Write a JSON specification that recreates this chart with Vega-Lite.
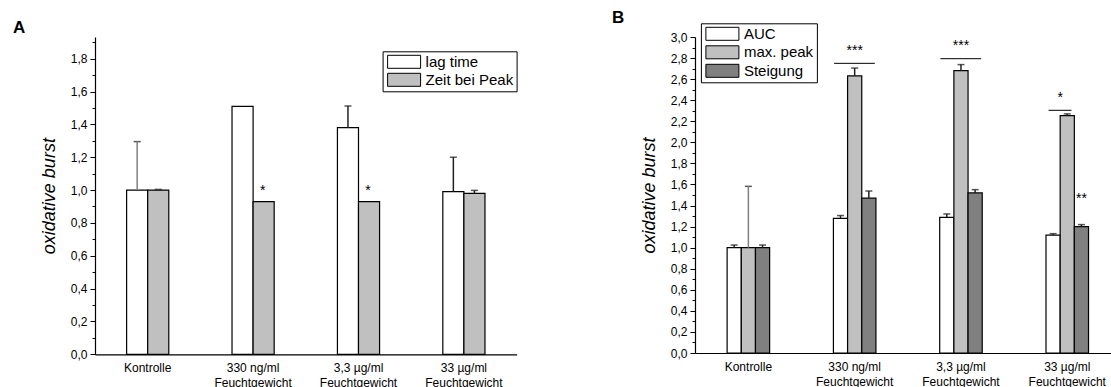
{
  "$schema": "https://vega.github.io/schema/vega-lite/v6.json",
  "background": "white",
  "padding": {"left": 13, "top": 9, "right": 0, "bottom": 0},
  "config": {
    "view": {"stroke": null},
    "font": "Liberation Sans",
    "axis": {"labelFont": "Liberation Sans", "titleFont": "Liberation Sans", "labelColor": "black", "titleColor": "black", "domainColor": "black", "tickColor": "black", "grid": false, "domainWidth": 1.2},
    "axisX": {"labelAngle": 0, "ticks": false, "labelPadding": 8, "labelFontSize": 12, "labelLineHeight": 15,
      "labelExpr": "indexof(datum.label,' Feucht')>0 ? [slice(datum.label,0,indexof(datum.label,' Feucht')), 'Feuchtgewicht'] : datum.label"},
    "axisY": {"labelOverlap": false, "labelFlush": false, "labelFontSize": 12, "labelPadding": 3,
      "titleFontStyle": "italic", "titleFontWeight": "normal", "titleFontSize": 18, "titlePadding": 12,
      "labelExpr": "round(datum.value*10)%2==0 ? replace(format(datum.value,'.1f'),'.',',') : ''",
      "tickSize": {"condition": {"test": "round(datum.value*10)%2==0", "value": 5}, "value": 3}}
  },
  "resolve": {"scale": {"fill": "independent", "xOffset": "independent", "x": "independent", "y": "independent"}, "legend": {"fill": "independent"}},
  "datasets": {
    "a": [
      {"group": "Kontrolle", "series": "lag time", "value": 1.0, "upper": 1.295},
      {"group": "Kontrolle", "series": "Zeit bei Peak", "value": 1.0, "upper": 1.004},
      {"group": "330 ng/ml Feuchtgewicht", "series": "lag time", "value": 1.51},
      {"group": "330 ng/ml Feuchtgewicht", "series": "Zeit bei Peak", "value": 0.93},
      {"group": "3,3 µg/ml Feuchtgewicht", "series": "lag time", "value": 1.38, "upper": 1.512},
      {"group": "3,3 µg/ml Feuchtgewicht", "series": "Zeit bei Peak", "value": 0.93},
      {"group": "33 µg/ml Feuchtgewicht", "series": "lag time", "value": 0.99, "upper": 1.2},
      {"group": "33 µg/ml Feuchtgewicht", "series": "Zeit bei Peak", "value": 0.98, "upper": 0.998}
    ],
    "annA": [
      {"group": "330 ng/ml Feuchtgewicht", "series": "Zeit bei Peak", "y": 0.997, "label": "*"},
      {"group": "3,3 µg/ml Feuchtgewicht", "series": "Zeit bei Peak", "y": 0.997, "label": "*"}
    ],
    "b": [
      {"group": "Kontrolle", "series": "AUC", "value": 1.0, "upper": 1.025},
      {"group": "Kontrolle", "series": "max. peak", "value": 1.0, "upper": 1.582},
      {"group": "Kontrolle", "series": "Steigung", "value": 1.0, "upper": 1.025},
      {"group": "330 ng/ml Feuchtgewicht", "series": "AUC", "value": 1.279, "upper": 1.305},
      {"group": "330 ng/ml Feuchtgewicht", "series": "max. peak", "value": 2.63, "upper": 2.705},
      {"group": "330 ng/ml Feuchtgewicht", "series": "Steigung", "value": 1.47, "upper": 1.538},
      {"group": "3,3 µg/ml Feuchtgewicht", "series": "AUC", "value": 1.288, "upper": 1.32},
      {"group": "3,3 µg/ml Feuchtgewicht", "series": "max. peak", "value": 2.68, "upper": 2.738},
      {"group": "3,3 µg/ml Feuchtgewicht", "series": "Steigung", "value": 1.52, "upper": 1.551},
      {"group": "33 µg/ml Feuchtgewicht", "series": "AUC", "value": 1.12, "upper": 1.133},
      {"group": "33 µg/ml Feuchtgewicht", "series": "max. peak", "value": 2.253, "upper": 2.27},
      {"group": "33 µg/ml Feuchtgewicht", "series": "Steigung", "value": 1.2, "upper": 1.219}
    ],
    "linesFull": [
      {"group": "330 ng/ml Feuchtgewicht", "y": 2.75, "label": "***", "ty": 2.87},
      {"group": "3,3 µg/ml Feuchtgewicht", "y": 2.794, "label": "***", "ty": 2.914}
    ],
    "linesPart": [
      {"group": "33 µg/ml Feuchtgewicht", "y": 2.304, "label": "*", "ty": 2.424}
    ],
    "annB": [
      {"group": "33 µg/ml Feuchtgewicht", "series": "Steigung", "y": 1.46, "label": "**"}
    ]
  },
  "hconcat": [
    {
      "width": 421.6,
      "height": 317.3,
      "title": {"text": "A", "anchor": "start", "frame": "group", "fontSize": 17, "fontWeight": "bold", "font": "Liberation Sans", "dx": -82, "offset": 0},
      "resolve": {"axis": {"y": "independent"}},
      "layer": [
        {
          "layer": [
            {
              "data": {"name": "a"},
              "mark": {"type": "bar", "stroke": "black", "strokeWidth": 1.2},
              "encoding": {
                "x": {"field": "group", "type": "nominal",
                  "scale": {"domain": ["Kontrolle", "330 ng/ml Feuchtgewicht", "3,3 µg/ml Feuchtgewicht", "33 µg/ml Feuchtgewicht"], "paddingInner": 0.6, "paddingOuter": 0.3},
                  "axis": {"title": null}},
                "xOffset": {"field": "series", "type": "nominal", "scale": {"domain": ["lag time", "Zeit bei Peak"]}},
                "y": {"field": "value", "type": "quantitative",
                  "scale": {"domain": [0, 1.932], "nice": false},
                  "axis": {"title": "oxidative burst", "orient": "left", "values": [0, 0.4, 0.8, 1.2, 1.6]}},
                "fill": {"field": "series", "type": "nominal",
                  "scale": {"domain": ["lag time", "Zeit bei Peak"], "range": ["#FFFFFF", "#C0C0C0"]},
                  "legend": {"title": null, "orient": "none", "legendX": 287.6, "legendY": 14.3, "direction": "vertical",
                    "strokeColor": "black", "fillColor": "white", "padding": 3, "labelFontSize": 15, "labelFont": "Liberation Sans", "labelColor": "black",
                    "symbolType": "M-2.538,-1H2.538V1H-2.538Z", "symbolSize": 169, "symbolStrokeColor": "black", "symbolStrokeWidth": 1,
                    "symbolOffset": 11, "labelOffset": 14, "rowPadding": 1}}
              }
            },
            {
              "data": {"name": "annA"},
              "mark": {"type": "text", "fontSize": 14, "font": "Liberation Sans", "color": "black", "baseline": "middle", "dx": -1},
              "encoding": {
                "x": {"field": "group", "type": "nominal", "axis": {"title": null}},
                "xOffset": {"field": "series", "type": "nominal", "scale": {"domain": ["lag time", "Zeit bei Peak"]}},
                "y": {"field": "y", "type": "quantitative", "axis": {"orient": "left"}},
                "text": {"field": "label"}
              }
            }
          ]
        },
        {
          "data": {"name": "a"},
          "transform": [{"filter": "isValid(datum.upper)"}],
          "mark": {"type": "tick", "orient": "horizontal", "size": 7, "thickness": 1.5, "color": "#111111"},
          "encoding": {
            "x": {"field": "group", "type": "nominal", "axis": {"title": null}},
            "xOffset": {"field": "series", "type": "nominal", "scale": {"domain": ["lag time", "Zeit bei Peak"]}},
            "y": {"field": "upper", "type": "quantitative",
              "axis": {"orient": "left", "title": null, "domain": false, "values": [0.2, 0.6, 1.0, 1.4, 1.8]}}
          }
        },
        {
          "data": {"name": "a"},
          "transform": [{"filter": "isValid(datum.upper)"}],
          "mark": {"type": "rule", "strokeWidth": 1.5},
          "encoding": {
            "x": {"field": "group", "type": "nominal", "axis": {"title": null}},
            "xOffset": {"field": "series", "type": "nominal", "scale": {"domain": ["lag time", "Zeit bei Peak"]}},
            "y": {"field": "value", "type": "quantitative",
              "axis": {"orient": "left", "title": null, "domain": false, "labels": false, "values": [0.1, 0.3, 0.5, 0.7, 0.9, 1.1, 1.3, 1.5, 1.7, 1.9]}},
            "y2": {"field": "upper"},
            "color": {"condition": {"test": "datum.group=='Kontrolle'", "value": "#808080"}, "value": "#222222"}
          }
        }
      ]
    },
    {
      "width": 416.4,
      "height": 316,
      "title": {"text": "B", "anchor": "start", "frame": "group", "fontSize": 17, "fontWeight": "bold", "font": "Liberation Sans", "dx": -83, "offset": -4.5},
      "resolve": {"axis": {"y": "independent"}},
      "layer": [
        {
          "layer": [
            {
              "data": {"name": "b"},
              "mark": {"type": "bar", "stroke": "black", "strokeWidth": 1.2},
              "encoding": {
                "x": {"field": "group", "type": "nominal",
                  "scale": {"domain": ["Kontrolle", "330 ng/ml Feuchtgewicht", "3,3 µg/ml Feuchtgewicht", "33 µg/ml Feuchtgewicht"], "paddingInner": 0.6, "paddingOuter": 0.2587, "align": 0.584},
                  "axis": {"title": null}},
                "xOffset": {"field": "series", "type": "nominal", "scale": {"domain": ["AUC", "max. peak", "Steigung"]}},
                "y": {"field": "value", "type": "quantitative",
                  "scale": {"domain": [0, 3.0], "nice": false},
                  "axis": {"title": "oxidative burst", "orient": "left", "values": [0, 0.4, 0.8, 1.2, 1.6, 2.0, 2.4, 2.8]}},
                "fill": {"field": "series", "type": "nominal",
                  "scale": {"domain": ["AUC", "max. peak", "Steigung"], "range": ["#FFFFFF", "#C0C0C0", "#808080"]},
                  "legend": {"title": null, "orient": "none", "legendX": 5.9, "legendY": -13.7, "direction": "vertical",
                    "strokeColor": "black", "fillColor": "white", "padding": 3, "labelFontSize": 15, "labelFont": "Liberation Sans", "labelColor": "black",
                    "symbolType": "M-2.538,-1H2.538V1H-2.538Z", "symbolSize": 169, "symbolStrokeColor": "black", "symbolStrokeWidth": 1,
                    "symbolOffset": 11, "labelOffset": 14, "rowPadding": 1.5}}
              }
            },
            {
              "data": {"name": "linesFull"},
              "mark": {"type": "rule", "color": "black", "strokeWidth": 1},
              "encoding": {
                "x": {"field": "group", "type": "nominal", "bandPosition": 0.016, "axis": {"title": null}},
                "x2": {"field": "group", "bandPosition": 0.974},
                "y": {"field": "y", "type": "quantitative", "axis": {"orient": "left"}}
              }
            },
            {
              "data": {"name": "linesFull"},
              "mark": {"type": "text", "fontSize": 14, "font": "Liberation Sans", "color": "black", "baseline": "middle"},
              "encoding": {
                "x": {"field": "group", "type": "nominal", "bandPosition": 0.5, "axis": {"title": null}},
                "y": {"field": "ty", "type": "quantitative", "axis": {"orient": "left"}},
                "text": {"field": "label"}
              }
            },
            {
              "data": {"name": "linesPart"},
              "mark": {"type": "rule", "color": "black", "strokeWidth": 1},
              "encoding": {
                "x": {"field": "group", "type": "nominal", "bandPosition": 0.06, "axis": {"title": null}},
                "x2": {"field": "group", "bandPosition": 0.6},
                "y": {"field": "y", "type": "quantitative", "axis": {"orient": "left"}}
              }
            },
            {
              "data": {"name": "linesPart"},
              "mark": {"type": "text", "fontSize": 14, "font": "Liberation Sans", "color": "black", "baseline": "middle"},
              "encoding": {
                "x": {"field": "group", "type": "nominal", "bandPosition": 0.333, "axis": {"title": null}},
                "y": {"field": "ty", "type": "quantitative", "axis": {"orient": "left"}},
                "text": {"field": "label"}
              }
            },
            {
              "data": {"name": "annB"},
              "mark": {"type": "text", "fontSize": 14, "font": "Liberation Sans", "color": "black", "baseline": "middle"},
              "encoding": {
                "x": {"field": "group", "type": "nominal", "axis": {"title": null}},
                "xOffset": {"field": "series", "type": "nominal", "scale": {"domain": ["AUC", "max. peak", "Steigung"]}},
                "y": {"field": "y", "type": "quantitative", "axis": {"orient": "left"}},
                "text": {"field": "label"}
              }
            }
          ]
        },
        {
          "data": {"name": "b"},
          "transform": [{"filter": "isValid(datum.upper)"}],
          "mark": {"type": "tick", "orient": "horizontal", "size": 7, "thickness": 1.5, "color": "#111111"},
          "encoding": {
            "x": {"field": "group", "type": "nominal", "axis": {"title": null}},
            "xOffset": {"field": "series", "type": "nominal", "scale": {"domain": ["AUC", "max. peak", "Steigung"]}},
            "y": {"field": "upper", "type": "quantitative",
              "axis": {"orient": "left", "title": null, "domain": false, "values": [0.2, 0.6, 1.0, 1.4, 1.8, 2.2, 2.6, 3.0]}}
          }
        },
        {
          "data": {"name": "b"},
          "transform": [{"filter": "isValid(datum.upper)"}],
          "mark": {"type": "rule", "strokeWidth": 1.5},
          "encoding": {
            "x": {"field": "group", "type": "nominal", "axis": {"title": null}},
            "xOffset": {"field": "series", "type": "nominal", "scale": {"domain": ["AUC", "max. peak", "Steigung"]}},
            "y": {"field": "value", "type": "quantitative",
              "axis": {"orient": "left", "title": null, "domain": false, "labels": false, "values": [0.1, 0.3, 0.5, 0.7, 0.9, 1.1, 1.3, 1.5, 1.7, 1.9, 2.1, 2.3, 2.5, 2.7, 2.9]}},
            "y2": {"field": "upper"},
            "color": {"condition": {"test": "datum.group=='Kontrolle' && datum.series=='max. peak'", "value": "#808080"}, "value": "#222222"}
          }
        }
      ]
    }
  ],
  "spacing": 94
}
